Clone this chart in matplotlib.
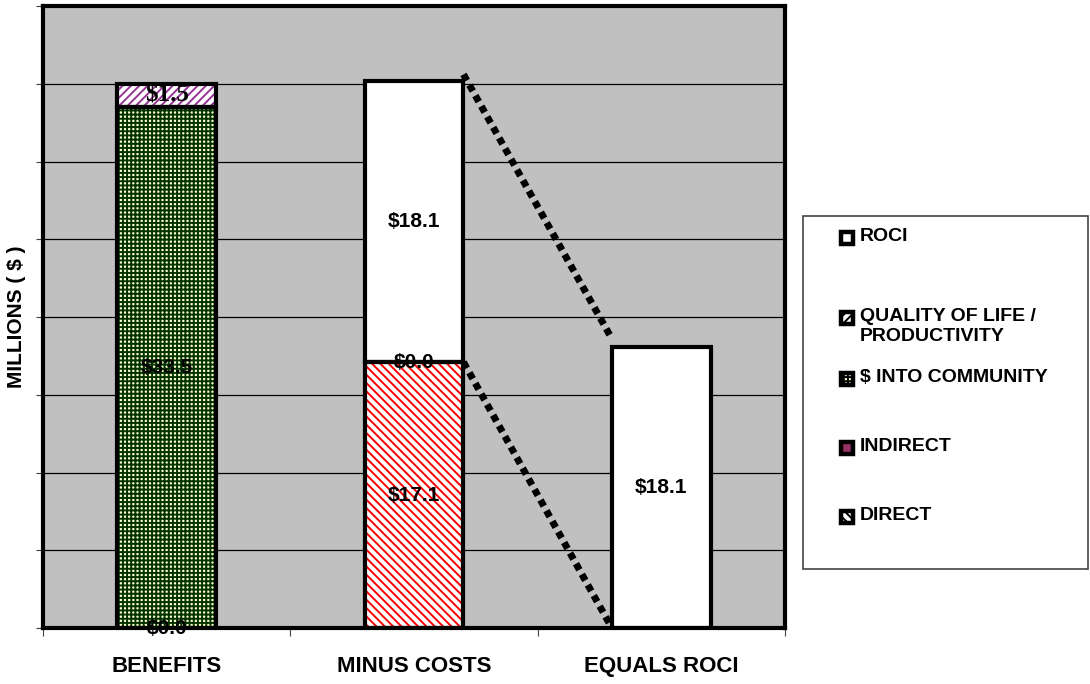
import matplotlib
matplotlib.use("Agg")
import matplotlib.pyplot as plt
from matplotlib.patches import Rectangle
import numpy as np

plt.rcParams['font.family'] = ['Liberation Sans', 'DejaVu Sans']

categories = ["BENEFITS", "MINUS COSTS", "EQUALS ROCI"]
series_names = ["DIRECT", "INDIRECT", "$ INTO COMMUNITY",
                "QUALITY OF LIFE /\nPRODUCTIVITY", "ROCI"]
direct = [None, 17.1, None]
indirect = [0.0, 0.0, None]
into_community = [33.5, None, None]
quality_of_life = [1.5, None, None]
roci = [None, 18.1, 18.1]
series_values = [direct, indirect, into_community, quality_of_life, roci]

face_colors = ["white", "#993366", "#ffffcc", "white", "white"]
hatch_colors = ["#ff0000", "#993366", "#003300", "#993399", "white"]
hatches = ["\\\\\\\\", None, "++++", "////", None]

yticks = [0, 5, 10, 15, 20, 25, 30, 35, 40]

W, H = 1090, 684
fig = plt.figure(figsize=(W/100, H/100), dpi=100)
ax = fig.add_axes([43/W, 56/H, (785-43)/W, (628-6)/H])
ax.set_facecolor("#c0c0c0")
plt.rcParams['hatch.linewidth'] = 1.4

x = np.arange(len(categories))
width = 0.4
bottoms = np.zeros(len(categories))
for si, vals in enumerate(series_values):
    for ci, v in enumerate(vals):
        if v is None:
            continue
        b = bottoms[ci]
        if v > 0:
            ax.bar(x[ci], v, width, bottom=b, color=face_colors[si],
                   hatch=hatches[si], edgecolor=hatch_colors[si],
                   linewidth=0, zorder=3)
            ax.bar(x[ci], v, width, bottom=b, fill=False,
                   edgecolor="black", linewidth=3, zorder=4)
        label = f"${v:.1f}"
        if si == 3:
            ax.text(x[ci], b + v/2, label, ha="center", va="center",
                    fontsize=18, fontweight="bold", family="Liberation Serif",
                    zorder=6)
        else:
            ax.text(x[ci], b + v/2, label, ha="center", va="center",
                    fontsize=15, fontweight="bold", zorder=6)
        bottoms[ci] += v

# dotted connector lines from costs bar to ROCI bar
total_costs = bottoms[1]
ax.plot([x[1] + width/2, x[2] - width/2], [total_costs + 0.4, roci[2] + 0.5],
        color="black", lw=5, linestyle=(0, (1, 0.75)), zorder=5,
        dash_capstyle="butt")
ax.plot([x[1] + width/2, x[2] - width/2], [direct[1], 0],
        color="black", lw=5, linestyle=(0, (1, 0.75)), zorder=5,
        dash_capstyle="butt")

ax.set_xlim(-0.5, 2.5)
ax.set_ylim(0, 40)
ax.set_yticks(yticks)
ax.set_yticklabels([])
ax.yaxis.grid(True, color="black", linewidth=0.9)
ax.set_axisbelow(True)
ax.tick_params(axis="y", direction="out", length=5, width=0.8, color="#444444")

ax.set_xticks([-0.5, 0.5, 1.5, 2.5])
ax.set_xticklabels([])
ax.tick_params(axis="x", which="major", direction="out", length=6, width=0.8, color="#444444")
ax.set_xticks(x, minor=True)
ax.set_xticklabels(categories, minor=True, fontsize=16, fontweight="bold")
ax.tick_params(axis="x", which="minor", length=0, pad=20)

for s in ax.spines.values():
    s.set_linewidth(3)
    s.set_color("black")
    s.set_zorder(7)

ax.set_ylabel("MILLIONS ( $ )", fontsize=15, fontweight="bold")
ax.yaxis.set_label_coords(-17/(785-43), 0.5)

# legend box (manual layout to match the reference)
def fx(px):
    return px / W

def fy(py):
    return 1 - py / H

fig.patches.append(Rectangle((fx(803), fy(569)), fx(1088) - fx(803),
                             fy(216) - fy(569), transform=fig.transFigure,
                             facecolor="white", edgecolor="#444444",
                             linewidth=1.2))
entry_y = [517, 448, 379, 318, 238]  # first text line of each entry, bottom->top order
for i in range(len(series_names)):
    yc = entry_y[i]
    fig.patches.append(Rectangle((fx(841), fy(yc + 6)), fx(12), 12/H,
                                 transform=fig.transFigure,
                                 facecolor=face_colors[i], hatch=hatches[i],
                                 edgecolor="black", linewidth=3.2))
    fig.text(fx(860), fy(yc - 10), series_names[i], ha="left", va="top",
             fontsize=14, fontweight="bold", linespacing=1.25)

fig.savefig("out.png", dpi=100)
